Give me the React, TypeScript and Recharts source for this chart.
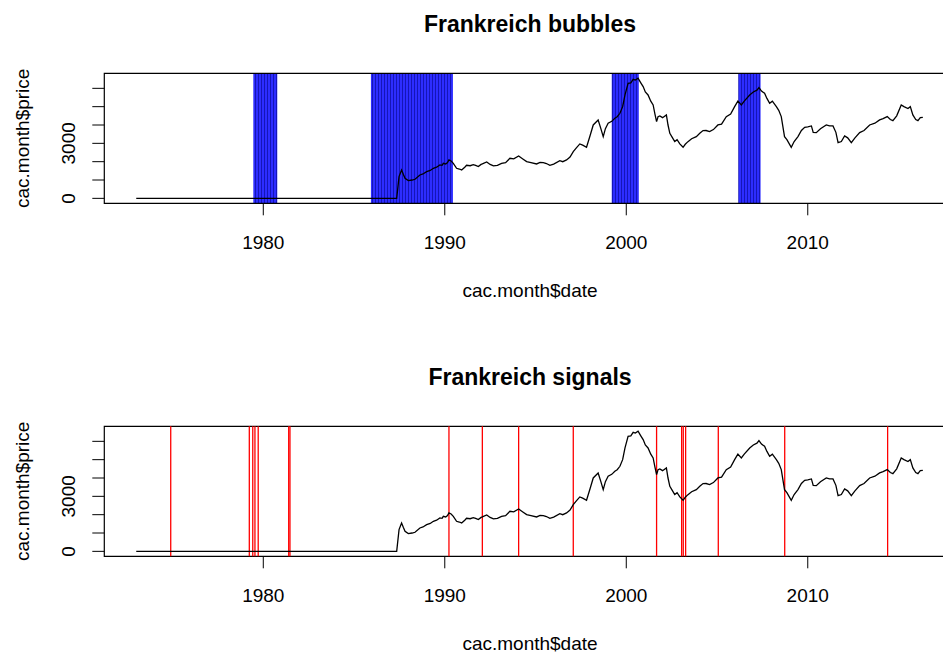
import React from 'react';
import { LineChart, Line, XAxis, YAxis, ReferenceArea, ReferenceLine } from 'recharts';

// monthly CAC prices (decimal years)
const priceDates = [
  1973.0, 1987.35, 1987.48, 1987.62, 1987.72, 1987.81, 1987.99, 1988.2, 1988.36, 1988.63,
  1988.8, 1989.0, 1989.2, 1989.37, 1989.55, 1989.73, 1989.85, 1989.92, 1990.05, 1990.15,
  1990.23, 1990.35, 1990.47, 1990.65, 1990.8, 1990.93, 1991.1, 1991.2, 1991.4, 1991.57,
  1991.7, 1991.85, 1992.0, 1992.07, 1992.31, 1992.5, 1992.68, 1992.9, 1993.13, 1993.35,
  1993.59, 1993.8, 1994.07, 1994.3, 1994.51, 1994.75, 1995.06, 1995.25, 1995.43, 1995.6,
  1995.79, 1996.0, 1996.34, 1996.5, 1996.71, 1996.9, 1997.08, 1997.25, 1997.44, 1997.6,
  1997.81, 1998.0, 1998.18, 1998.45, 1998.6, 1998.73, 1998.85, 1999.0, 1999.2, 1999.37,
  1999.5, 1999.65, 1999.8, 1999.93, 2000.1, 2000.25, 2000.38, 2000.5, 2000.65, 2000.8,
  2000.93, 2001.05, 2001.2, 2001.35, 2001.48, 2001.58, 2001.67, 2001.75, 2001.85, 2002.0,
  2002.21, 2002.3, 2002.4, 2002.55, 2002.67, 2002.8, 2002.95, 2003.13, 2003.25, 2003.4,
  2003.6, 2003.86, 2004.05, 2004.23, 2004.4, 2004.59, 2004.8, 2005.05, 2005.25, 2005.51,
  2005.75, 2005.97, 2006.15, 2006.34, 2006.5, 2006.8, 2007.0, 2007.2, 2007.31, 2007.45,
  2007.62, 2007.75, 2007.9, 2008.05, 2008.27, 2008.4, 2008.54, 2008.72, 2008.85, 2009.09,
  2009.25, 2009.46, 2009.65, 2009.83, 2010.0, 2010.2, 2010.3, 2010.47, 2010.7, 2011.02,
  2011.2, 2011.39, 2011.55, 2011.67, 2011.85, 2012.03, 2012.2, 2012.4, 2012.6, 2012.86,
  2013.1, 2013.41, 2013.7, 2013.96, 2014.15, 2014.38, 2014.55, 2014.69, 2014.9, 2015.15,
  2015.3, 2015.52, 2015.65, 2015.79, 2015.95, 2016.07, 2016.2, 2016.34,
];
const priceValues = [
  0, 0, 1185, 1549, 1300, 1094, 967, 1000, 1040, 1276,
  1330, 1458, 1520, 1640, 1700, 1821, 1800, 1912, 1876, 1949,
  2094, 2040, 1912, 1640, 1600, 1549, 1700, 1803, 1780, 1840,
  1800, 1731, 1850, 1876, 1985, 1850, 1767, 1800, 1912, 1950,
  2185, 2150, 2312, 2150, 2003, 1950, 1876, 1960, 1949, 1900,
  1803, 1870, 2058, 2000, 2094, 2250, 2549, 2750, 2967, 2900,
  2785, 3400, 4003, 4276, 3800, 3367, 3800, 4094, 4200, 4367,
  4450, 4639, 5000, 5639, 6276, 6300, 6494, 6450, 6548, 6300,
  6094, 5800, 5639, 5300, 5094, 4600, 4185, 4450, 4494, 4400,
  4549, 4000, 3549, 3300, 3094, 3200, 2967, 2785, 2950, 3094,
  3250, 3367, 3550, 3694, 3700, 3640, 3750, 4003, 4050, 4458,
  4600, 5003, 5300, 5094, 5300, 5639, 5800, 5900, 6039, 5850,
  5730, 5450, 5185, 5300, 5003, 4800, 4458, 3367, 3200, 2785,
  3100, 3367, 3700, 3876, 3900, 3949, 3600, 3585, 3800, 4003,
  3950, 3949, 3600, 3040, 3100, 3403, 3300, 3040, 3300, 3585,
  3700, 4003, 4100, 4276, 4350, 4458, 4300, 4240, 4500, 5094,
  5000, 4900, 5000, 4549, 4300, 4240, 4400, 4421,
];

const bubbleStarts = [1979.45, 1985.93, 1999.2, 2006.17];
const bubbleEnds = [1980.77, 1990.45, 2000.69, 2007.4];

const signalDates = [
  1974.9, 1979.23, 1979.42, 1979.54, 1979.72, 1981.4, 1981.47, 1990.23, 1992.07,
  1994.07, 1997.08, 2001.67, 2003.05, 2003.14, 2003.27, 2005.07, 2008.73, 2014.4,
];

const xTicks = [1980, 1990, 2000, 2010];
const yTicks = [0, 1000, 2000, 3000, 4000, 5000, 6000];
const yLabelled = [0, 3000];

const data = priceDates.map((d, i) => ({ date: d, price: priceValues[i] }));

const FONT = '"Liberation Sans", Arial, Helvetica, sans-serif';
const X_DOMAIN = [1971.24, 2018.14];
const Y_DOMAIN = [-270, 6820];
const CHART_W = 970;
const CHART_H = 353;
const Y_AXIS_W = 50;
const X_AXIS_H = 60;
const MARGIN = {
  top: 73.3,
  left: 104.3 - Y_AXIS_W,
  right: CHART_W - 955.5,
  bottom: CHART_H - 203.3 - X_AXIS_H,
};

const XTick = (props: any) => {
  const { x, y, payload } = props;
  return (
    <text x={x} y={y + 34} textAnchor="middle" fontSize={19} fontFamily={FONT} fill="#000">
      {payload.value}
    </text>
  );
};

const YTick = (props: any) => {
  const { x, y, payload } = props;
  if (!yLabelled.includes(payload.value)) return <g />;
  const tx = x - 17.3;
  return (
    <text x={tx} y={y} transform={`rotate(-90, ${tx}, ${y})`} textAnchor="middle"
      fontSize={19} fontFamily={FONT} fill="#000">
      {payload.value}
    </text>
  );
};

const Panel: React.FC<{ top: number; children?: React.ReactNode }> = ({ top, children }) => (
  <div style={{ position: 'absolute', left: 0, top }}>
    <LineChart width={CHART_W} height={CHART_H} data={data} margin={MARGIN}>
      <defs>
        <pattern id="bubbleStripes" width="3" height="10" patternUnits="userSpaceOnUse">
          <rect width="3" height="10" fill="#2d2dff" />
          <rect width="1" height="10" fill="#1515b8" />
        </pattern>
      </defs>
      <XAxis dataKey="date" type="number" domain={X_DOMAIN} ticks={xTicks} height={X_AXIS_H}
        axisLine={false} tickSize={12} tickMargin={0} stroke="#000" tick={XTick}
        allowDataOverflow interval={0} />
      <YAxis type="number" domain={Y_DOMAIN} ticks={yTicks} width={Y_AXIS_W}
        axisLine={false} tickSize={12} tickMargin={0} stroke="#000" tick={YTick}
        allowDataOverflow interval={0} />
      {children}
      <Line type="linear" dataKey="price" stroke="#000" strokeWidth={1.3} dot={false}
        isAnimationActive={false} />
      <ReferenceArea x1={X_DOMAIN[0]} x2={X_DOMAIN[1]} y1={Y_DOMAIN[0]} y2={Y_DOMAIN[1]}
        fill="none" stroke="#000" strokeWidth={1.2} ifOverflow="extendDomain" />
    </LineChart>
  </div>
);

const App: React.FC = () => (
  <div style={{ position: 'absolute', left: 0, top: 0, width: 943, height: 653, overflow: 'hidden', background: '#fff' }}>
    <Panel top={0}>
      {bubbleStarts.map((s, i) => (
        <ReferenceArea key={`b-${i}`} x1={s} x2={bubbleEnds[i]} y1={Y_DOMAIN[0]} y2={Y_DOMAIN[1]}
          fill="url(#bubbleStripes)" fillOpacity={1} stroke="none" />
      ))}
    </Panel>
    <Panel top={353}>
      {signalDates.map((d, i) => (
        <ReferenceLine key={`s-${i}`} x={d} stroke="#ff0000" strokeWidth={1.3} />
      ))}
    </Panel>
    <svg width={943} height={653} style={{ position: 'absolute', left: 0, top: 0, pointerEvents: 'none' }}>
      <g fontFamily={FONT} fill="#000" textAnchor="middle">
        <text x={530} y={32} fontSize={23} fontWeight="bold">Frankreich bubbles</text>
        <text x={530} y={385} fontSize={23} fontWeight="bold">Frankreich signals</text>
        <text x={530} y={297} fontSize={19}>cac.month$date</text>
        <text x={530} y={650} fontSize={19}>cac.month$date</text>
        <text x={29} y={138.3} fontSize={19} transform="rotate(-90, 29, 138.3)">cac.month$price</text>
        <text x={29} y={491.3} fontSize={19} transform="rotate(-90, 29, 491.3)">cac.month$price</text>
      </g>
    </svg>
  </div>
);

export default App;
